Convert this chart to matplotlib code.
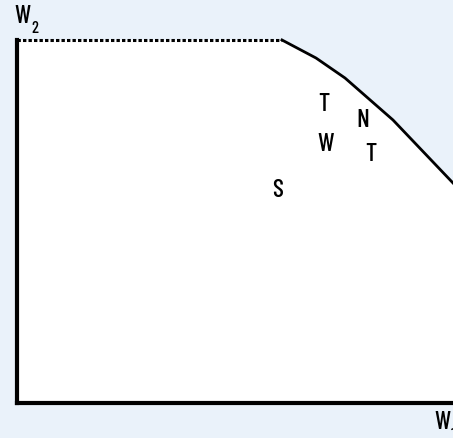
import matplotlib.pyplot as plt
from matplotlib.patches import Polygon

# welfare frontier (W1, W2), arbitrary units
frontier_w1 = [0, 265, 299, 328, 376, 436]
frontier_w2 = [363, 363, 345, 325, 283, 220]

labels = ["T", "W", "N", "T", "S"]
label_w1 = [307, 309, 346, 354, 261]
label_w2 = [292, 252, 276, 242, 206]

bg = "#eaf2fa"
font = "Barlow Condensed"

fig = plt.figure(figsize=(4.53, 4.38), dpi=100)
fig.patch.set_facecolor(bg)
ax = fig.add_axes([0, 0, 1, 1])
ax.set_facecolor(bg)
ax.set_xlim(-17, 436)
ax.set_ylim(-35, 403)
ax.axis("off")

# white feasible region under the frontier
pts = [(0, 0)] + list(zip(frontier_w1, frontier_w2)) + [(frontier_w1[-1], 0)]
ax.add_patch(Polygon(pts, closed=True, facecolor="white", edgecolor="none", zorder=1))

ax.plot(frontier_w1[:2], frontier_w2[:2], color="black", lw=2.2,
        linestyle=(0, (1.1, 0.7)), zorder=3, solid_capstyle="butt")
ax.plot(frontier_w1[1:], frontier_w2[1:], color="black", lw=2, zorder=3)

# axes
ax.plot([0, 0], [0, frontier_w2[0]], color="black", lw=3, zorder=4, solid_capstyle="projecting")
ax.plot([0, 436], [0, 0], color="black", lw=3, zorder=4, solid_capstyle="projecting")

for s, x, y in zip(labels, label_w1, label_w2):
    ax.text(x, y, s, fontsize=18.5, family=font, weight="medium",
            ha="center", va="baseline", zorder=5)

ax.text(-3, 380, "W", fontsize=18, family=font, weight="medium", ha="left", va="baseline")
ax.text(14.5, 370, "2", fontsize=12, family=font, weight="medium", ha="left", va="baseline")
ax.text(417, -26, "W", fontsize=18, family=font, weight="medium", ha="left", va="baseline")
ax.text(433.5, -37, "1", fontsize=12, family=font, weight="medium", ha="left", va="baseline")

fig.savefig("out.png", dpi=100, facecolor=bg)
